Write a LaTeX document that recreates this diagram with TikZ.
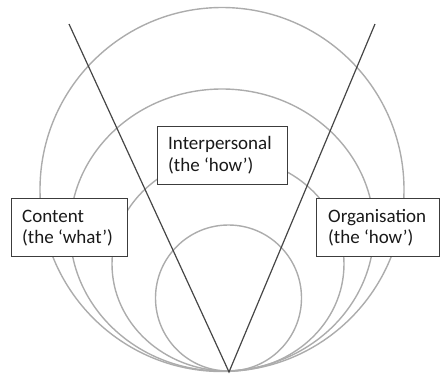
\documentclass[tikz,border=0pt]{standalone}
\usepackage{fontspec}
\setmainfont{Carlito}
\definecolor{ringgray}{RGB}{172,172,172}
\definecolor{linegray}{RGB}{70,70,70}
\definecolor{boxline}{RGB}{60,60,60}
\definecolor{txt}{RGB}{25,25,25}
\begin{document}
\begin{tikzpicture}[x=1pt,y=-1pt,
  ring/.style={draw=ringgray, line width=1.4pt},
  ray/.style={draw=linegray, line width=1.2pt},
  labbox/.style={draw=boxline, fill=white, line width=0.9pt, anchor=north west, inner sep=0pt},
  labtext/.style={anchor=base west, align=left, text=txt, inner sep=0pt, font=\fontsize{19}{21.5}\selectfont}]
\useasboundingbox (0,0) rectangle (440,376);
% rings
\draw[ring] (222,189.5) ellipse [x radius=182pt, y radius=182pt];
\draw[ring] (222,230) ellipse [x radius=152pt, y radius=141pt];
\draw[ring] (228,264) ellipse [x radius=116pt, y radius=107pt];
\draw[ring] (228.5,298) ellipse [x radius=73pt, y radius=73pt];
% rays
\coordinate (apex) at (229,372);
\coordinate (ltop) at (69,24);
\coordinate (rtop) at (375,24);
\draw[ray] (ltop) -- (apex) -- (rtop);
% boxes
\node[labbox, minimum width=130pt, minimum height=58pt] (ibox) at (157,126) {};
\node[labbox, minimum width=116pt, minimum height=58pt] (cbox) at (11,198) {};
\node[labbox, minimum width=123pt, minimum height=58pt] (obox) at (316,198) {};
% texts
\node[labtext] (itxt) at (168,149) {Interpersonal};
\node[labtext] (itxt2) at (168,171) {(the ‘how’)};
\node[labtext] (ctxt) at (22,222) {Content};
\node[labtext] (ctxt2) at (22,243.5) {(the ‘what’)};
\node[labtext] (otxt) at (328,222) {Organisation};
\node[labtext] (otxt2) at (328,243.5) {(the ‘how’)};
\end{tikzpicture}
\end{document}
